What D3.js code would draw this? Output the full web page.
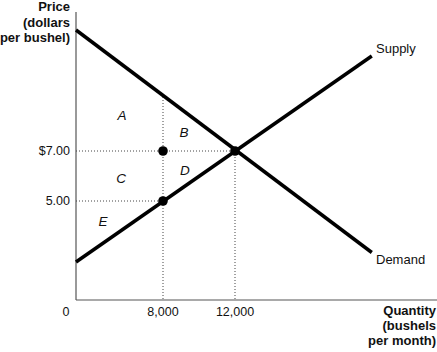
<!DOCTYPE html>
<html>
<head>
  <meta charset="utf-8">
  <title>Supply and demand</title>
  <style>
    body { margin: 0; background: #fff; }
    text { font-family: "Liberation Sans", Arial, sans-serif; fill: #111; }
  </style>
</head>
<body>
  <script src="https://d3js.org/d3.v7.min.js"></script>
  <script>
    // data
    var xTicks = [8000, 12000],
      xTickLabels = ['8,000', '12,000'],
      yTicks = [5, 7],
      yTickLabels = ['5.00', '$7.00'];
    var supply = [[0, 1.92], [19600, 10.8]],
      demand = [[0, 11.84], [19600, 2.4]];
    var points = [[8000, 7], [8000, 5], [12000, 7]];
    var areas = ['A', 'B', 'C', 'D', 'E'],
      areaPos = [[4230, 8.44], [9170, 7.76], [4140, 5.92], [9220, 6.24], [2480, 3.99]];
    var demandAt8000 = 9.16;

    var width = 437, height = 352;

    // schematic axes: piecewise scales
    var x = d3.scaleLinear()
      .domain([0, 8000, 12000])
      .range([76, 163, 235]);
    var y = d3.scaleLinear()
      .domain([0, 5, 7])
      .range([300, 201, 151]);

    var svg = d3.select('body').append('svg')
      .attr('width', width)
      .attr('height', height);

    // axes
    svg.append('line')
      .attr('x1', 76).attr('x2', 76)
      .attr('y1', 12).attr('y2', 300)
      .attr('stroke', '#555').attr('stroke-width', 1.2);
    svg.append('line')
      .attr('x1', 76).attr('x2', 437)
      .attr('y1', 300).attr('y2', 300)
      .attr('stroke', '#555').attr('stroke-width', 1.2);

    // dotted guides
    var dotted = svg.append('g')
      .attr('stroke', '#444').attr('stroke-width', 1)
      .attr('stroke-dasharray', '1,2');
    dotted.append('line')
      .attr('x1', x(0)).attr('x2', x(12000))
      .attr('y1', y(7)).attr('y2', y(7));
    dotted.append('line')
      .attr('x1', x(0)).attr('x2', x(8000))
      .attr('y1', y(5)).attr('y2', y(5));
    dotted.append('line')
      .attr('x1', x(12000)).attr('x2', x(12000))
      .attr('y1', y(7)).attr('y2', y(0));
    dotted.append('line')
      .attr('x1', x(8000)).attr('x2', x(8000))
      .attr('y1', y(demandAt8000)).attr('y2', y(0));

    // curves
    var line = d3.line().x(d => x(d[0])).y(d => y(d[1]));
    svg.append('path').datum(demand)
      .attr('d', line)
      .attr('fill', 'none').attr('stroke', '#000').attr('stroke-width', 3.5);
    svg.append('path').datum(supply)
      .attr('d', line)
      .attr('fill', 'none').attr('stroke', '#000').attr('stroke-width', 3.5);

    // points
    svg.selectAll('circle').data(points).enter()
      .append('circle')
      .attr('cx', d => x(d[0]))
      .attr('cy', d => y(d[1]))
      .attr('r', 4.8)
      .attr('fill', '#000');

    // area labels
    svg.selectAll('.area').data(areas).enter()
      .append('text')
      .attr('class', 'area')
      .attr('x', (d, i) => x(areaPos[i][0]))
      .attr('y', (d, i) => y(areaPos[i][1]))
      .attr('text-anchor', 'middle')
      .attr('dy', '0.35em')
      .style('font-style', 'italic')
      .style('font-size', '13.5px')
      .text(d => d);

    // tick labels
    svg.selectAll('.xt').data(xTicks).enter()
      .append('text')
      .attr('x', d => x(d))
      .attr('y', 316)
      .attr('text-anchor', 'middle')
      .style('font-size', '12.5px')
      .text((d, i) => xTickLabels[i]);
    svg.append('text')
      .attr('x', 66).attr('y', 316)
      .attr('text-anchor', 'middle')
      .style('font-size', '12.5px')
      .text('0');
    svg.selectAll('.yt').data(yTicks).enter()
      .append('text')
      .attr('x', 70)
      .attr('y', d => y(d))
      .attr('dy', '0.35em')
      .attr('text-anchor', 'end')
      .style('font-size', '12.5px')
      .text((d, i) => yTickLabels[i]);

    // axis titles
    var yTitle = svg.append('text')
      .attr('text-anchor', 'end')
      .style('font-weight', 'bold')
      .style('font-size', '13px');
    ['Price', '(dollars', 'per bushel)'].forEach((t, i) => {
      yTitle.append('tspan').attr('x', 70).attr('y', 11 + i * 15.5).text(t);
    });
    var xTitle = svg.append('text')
      .attr('text-anchor', 'end')
      .style('font-weight', 'bold')
      .style('font-size', '13px');
    ['Quantity', '(bushels', 'per month)'].forEach((t, i) => {
      xTitle.append('tspan').attr('x', 436).attr('y', 315 + i * 15).text(t);
    });

    // curve labels
    svg.append('text')
      .attr('x', 376).attr('y', 53)
      .style('font-size', '13px')
      .text('Supply');
    svg.append('text')
      .attr('x', 376).attr('y', 264)
      .style('font-size', '13px')
      .text('Demand');
  </script>
</body>
</html>
